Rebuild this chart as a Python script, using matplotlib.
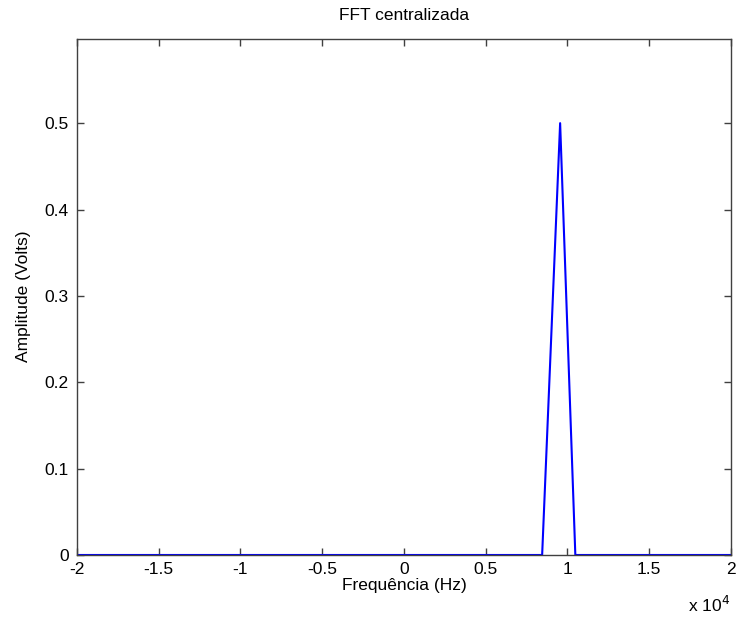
import matplotlib
matplotlib.use("Agg")
import matplotlib.pyplot as plt

# espectro centralizado (Hz, Volts)
freq = [-20000, 8450, 9550, 10480, 20000]
amp = [0, 0, 0.5, 0, 0]

xticks = [-20000, -15000, -10000, -5000, 0, 5000, 10000, 15000, 20000]
xtick_labels = ['-2', '-1.5', '-1', '-0.5', '0', '0.5', '1', '1.5', '2']
yticks = [0, 0.1, 0.2, 0.3, 0.4, 0.5]
ytick_labels = ['0', '0.1', '0.2', '0.3', '0.4', '0.5']

plt.rcParams['font.family'] = ['Liberation Sans', 'DejaVu Sans']
fs = 12.5

fig = plt.figure(figsize=(7.38, 6.19), dpi=100)
ax = fig.add_axes([0.1043, 0.1034, 0.8862, 0.8344])

ax.plot(freq, amp, color='#0000ff', linewidth=1.5)
ax.set_xlim(-20000, 20000)
ax.set_ylim(0, 0.598)

ax.set_xticks(xticks)
ax.set_xticklabels(xtick_labels)
ax.set_yticks(yticks)
ax.set_yticklabels(ytick_labels)
ax.tick_params(direction='in', top=True, right=True, length=5, width=1,
               color='#404040', labelsize=fs)
ax.tick_params(axis='x', pad=5)
ax.tick_params(axis='y', pad=6)
for s in ax.spines.values():
    s.set_color('#404040')
    s.set_linewidth(1)

ax.set_title('FFT centralizada', fontsize=fs, pad=13)
ax.set_xlabel('Frequência (Hz)', fontsize=fs, labelpad=1)
ax.set_ylabel('Amplitude (Volts)', fontsize=fs, labelpad=10)
fig.text(0.932, 0.012, r'x 10$^4$', fontsize=fs)

fig.savefig('out.png', dpi=100)
